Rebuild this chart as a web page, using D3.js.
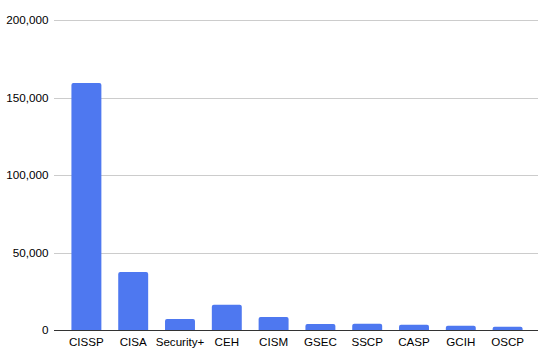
<!DOCTYPE html>
<html>
<head>
<meta charset="utf-8">
<script src="https://cdn.jsdelivr.net/npm/d3@7"></script>
<style>
  html, body { margin: 0; padding: 0; background: #fff; }
  svg { display: block; }
  text { font-family: "Liberation Sans", Arial, sans-serif; fill: #000; }
</style>
</head>
<body>
<svg id="chart" width="541" height="358"></svg>
<script>
const categories = ["CISSP", "CISA", "Security+", "CEH", "CISM", "GSEC", "SSCP", "CASP", "GCIH", "OSCP"];
const values = [159300, 37400, 7100, 16300, 8400, 3900, 4100, 3400, 2800, 2100];
const yTicks = [0, 50000, 100000, 150000, 200000];

const svg = d3.select("#chart");
const gridLeft = 54, gridRight = 538;
const y = d3.scaleLinear().domain([0, 200000]).range([330, 20]);
const x = d3.scaleBand().domain(categories).range([63, 531]).paddingInner(0.36).paddingOuter(0.18);
const fmt = d3.format(",");

// gridlines
svg.append("g").selectAll("line").data(yTicks.filter(d => d !== 0)).join("line")
  .attr("x1", gridLeft).attr("x2", gridRight)
  .attr("y1", d => Math.round(y(d)) + 0.5).attr("y2", d => Math.round(y(d)) + 0.5)
  .attr("stroke", "#cccccc").attr("stroke-width", 1);

// y labels
svg.append("g").selectAll("text").data(yTicks).join("text")
  .attr("x", 48.5).attr("y", d => y(d))
  .attr("dy", "0.35em")
  .attr("text-anchor", "end")
  .style("font-size", "11.7px")
  .text(d => fmt(d));

// bars with rounded tops
const r = 2;
svg.append("g").selectAll("path").data(categories).join("path")
  .attr("fill", "#4e78f0")
  .attr("d", (c, i) => {
    const x0 = x(c), w = x.bandwidth(), y0 = y(values[i]), yb = y(0);
    const rr = Math.min(r, (yb - y0));
    return `M${x0},${yb} L${x0},${y0 + rr} Q${x0},${y0} ${x0 + rr},${y0} L${x0 + w - rr},${y0} Q${x0 + w},${y0} ${x0 + w},${y0 + rr} L${x0 + w},${yb} Z`;
  });

// baseline
svg.append("line")
  .attr("x1", gridLeft).attr("x2", gridRight)
  .attr("y1", Math.round(y(0)) + 0.5).attr("y2", Math.round(y(0)) + 0.5)
  .attr("stroke", "#333333").attr("stroke-width", 1);

// x labels
svg.append("g").selectAll("text").data(categories).join("text")
  .attr("x", c => x(c) + x.bandwidth() / 2)
  .attr("y", 346)
  .attr("text-anchor", "middle")
  .style("font-size", "11.6px")
  .text(c => c);
</script>
</body>
</html>
